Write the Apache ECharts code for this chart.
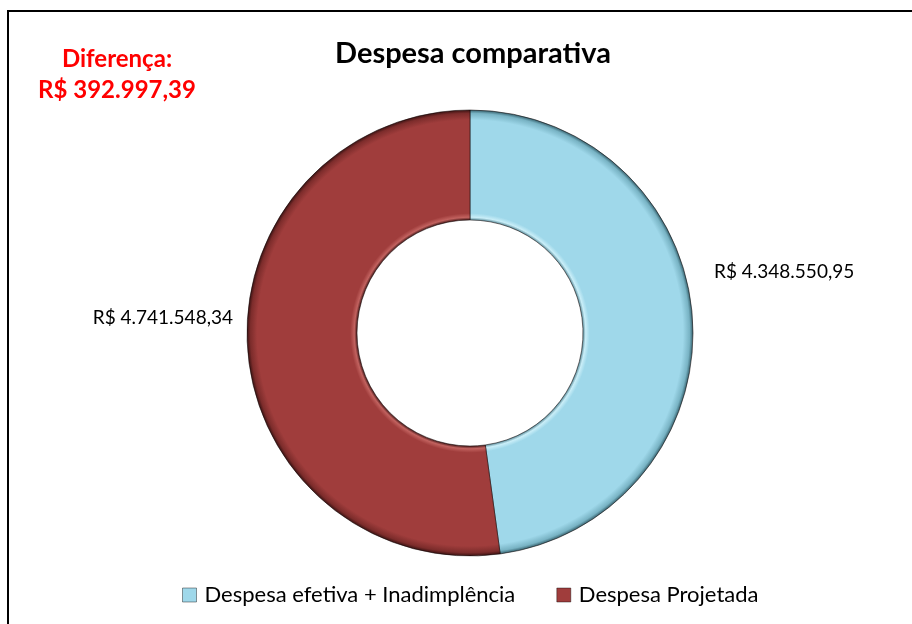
<!DOCTYPE html>
<html>
<head>
<meta charset="utf-8">
<title>Despesa comparativa</title>
<script src="https://cdn.jsdelivr.net/npm/echarts@6/dist/echarts.min.js"></script>
<style>
  html, body { margin: 0; padding: 0; background: #fff; }
  #chart { width: 912px; height: 624px; }
</style>
</head>
<body>
<div id="chart"></div>
<script>
// dados do gráfico
var categorias = ['Despesa efetiva + Inadimplência', 'Despesa Projetada'];
var valores = [4348550.95, 4741548.34];
var cores = ['#9FD8EA', '#A03D3C'];

// formata no padrão brasileiro: R$ 4.348.550,95
function formataReal(v) {
    var partes = v.toFixed(2).split('.');
    var inteiro = partes[0].replace(/\B(?=(\d{3})+(?!\d))/g, '.');
    return 'R$ ' + inteiro + ',' + partes[1];
}

var diferenca = valores[1] - valores[0];
var fonte = 'Lato, "Open Sans", sans-serif';

var centro = [470, 333];
var rInterno = 113, rExterno = 223;

// gradiente radial para imitar o chanfro (bevel) do Excel
function chanfro(escuro, claro, base, borda, fundo) {
    var k = rInterno / rExterno;
    return {
        type: 'radial', x: centro[0], y: centro[1], r: rExterno, global: true,
        colorStops: [
            { offset: k, color: escuro },
            { offset: k + 0.012, color: claro },
            { offset: k + 0.03, color: base },
            { offset: 0.955, color: base },
            { offset: 0.985, color: borda },
            { offset: 1, color: fundo }
        ]
    };
}
var gradientes = [
    chanfro('#5d8e9c', '#c9eef8', cores[0], '#78b3c4', '#35606c'),
    chanfro('#4a1a1a', '#c2625f', cores[1], '#7c2c2b', '#3a1212')
];

var myChart = echarts.init(document.getElementById('chart'));
var option = {
    animation: false,
    textStyle: { fontFamily: fonte },
    title: [
        {
            text: 'Despesa comparativa',
            left: 468,
            top: 34,
            textAlign: 'center',
            textStyle: { fontSize: 29, fontWeight: 'bold', color: '#000', fontFamily: fonte }
        },
        {
            text: 'Diferença:\n' + formataReal(diferenca),
            left: 112,
            top: 39,
            textAlign: 'center',
            textStyle: { fontSize: 24, fontWeight: 'bold', color: '#FF0000', lineHeight: 31, fontFamily: fonte }
        }
    ],
    legend: {
        bottom: 13,
        left: 177,
        itemWidth: 14,
        itemHeight: 14,
        itemGap: 41,
        icon: 'rect',
        textStyle: { fontSize: 22, color: '#000', fontFamily: fonte, padding: [0, 0, 0, 3] },
        data: categorias.map(function (c, i) {
            return { name: c, itemStyle: { color: cores[i], borderColor: 'rgba(0,0,0,0.4)', borderWidth: 1 } };
        })
    },
    graphic: [
        {
            type: 'rect',
            shape: { x: 8, y: 11, width: 1000, height: 1000 },
            style: { fill: 'none', stroke: '#000', lineWidth: 2 },
            silent: true
        }
    ],
    series: [
        {
            type: 'pie',
            center: centro,
            radius: [rInterno, rExterno],
            startAngle: 90,
            clockwise: true,
            itemStyle: {
                borderColor: 'rgba(20,10,10,0.55)',
                borderWidth: 1
            },
            label: {
                show: true,
                position: 'outside',
                fontSize: 19,
                color: '#000',
                fontFamily: fonte,
                formatter: function (p) { return formataReal(p.value); }
            },
            labelLine: { show: false },
            labelLayout: function (p) {
                if (p.dataIndex === 0) {
                    return { x: 714, y: 272, align: 'left', verticalAlign: 'middle' };
                }
                return { x: 233, y: 318, align: 'right', verticalAlign: 'middle' };
            },
            data: categorias.map(function (c, i) {
                return { name: c, value: valores[i], itemStyle: { color: gradientes[i] } };
            })
        }
    ]
};
myChart.setOption(option);
</script>
</body>
</html>
